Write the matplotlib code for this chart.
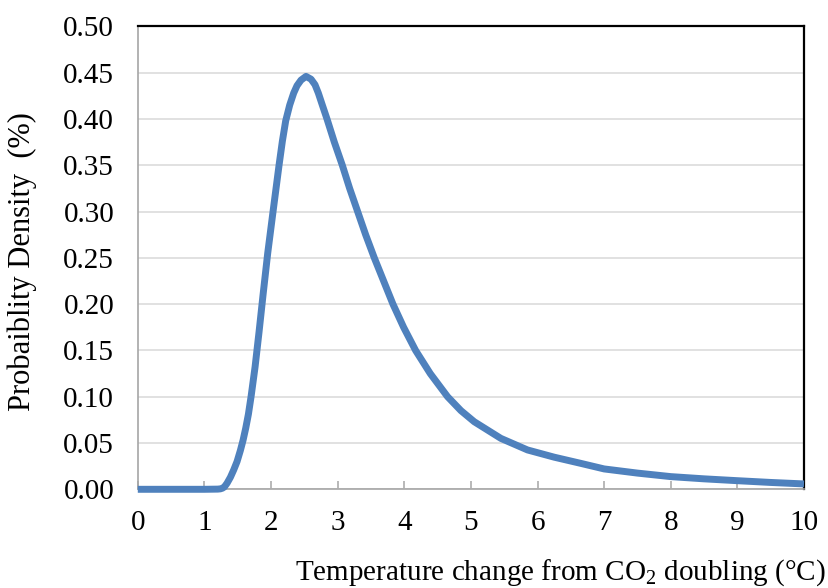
import numpy as np
import matplotlib.pyplot as plt

# values
temp_change = [0.0, 1.0, 1.20, 1.24, 1.27, 1.30, 1.34, 1.39, 1.44, 1.49, 1.54,
               1.58, 1.62, 1.66, 1.70, 1.76, 1.82, 1.88, 1.95, 2.03, 2.12,
               2.17, 2.22, 2.28, 2.34, 2.39, 2.45, 2.525, 2.60, 2.66, 2.71,
               2.77, 2.84, 2.95, 3.07, 3.18, 3.30, 3.42, 3.55, 3.69, 3.83,
               3.99, 4.17, 4.39, 4.65, 4.85, 5.05, 5.45, 5.85, 6.25, 6.65,
               7.0, 7.5, 8.0, 8.5, 9.0, 9.5, 10.0]
density = [0.0, 0.0, 0.0002, 0.0005, 0.0012, 0.0026, 0.0066, 0.013, 0.021,
           0.030, 0.042, 0.053, 0.066, 0.081, 0.100, 0.132, 0.170, 0.210,
           0.255, 0.300, 0.350, 0.376, 0.398, 0.415, 0.428, 0.436, 0.442,
           0.446, 0.443, 0.437, 0.428, 0.415, 0.400, 0.375, 0.350, 0.325,
           0.300, 0.275, 0.250, 0.225, 0.200, 0.175, 0.150, 0.125, 0.100,
           0.085, 0.073, 0.055, 0.0425, 0.0347, 0.028, 0.0220, 0.0175,
           0.0137, 0.0113, 0.0093, 0.0074, 0.0058]

x_ticks = np.arange(0, 11, 1)
y_ticks = np.arange(0, 0.51, 0.05)

plt.rcParams['font.family'] = ['Liberation Serif', 'DejaVu Serif']
plt.rcParams['mathtext.fontset'] = 'custom'
plt.rcParams['mathtext.rm'] = 'Liberation Serif'

fig = plt.figure(figsize=(8.29, 5.88), dpi=100)
ax = fig.add_axes([137.8 / 829, 1 - 489.3 / 588, (804 - 137.8) / 829, (489.3 - 26.4) / 588])

ax.plot(temp_change, density, color='#4F81BD', linewidth=5.0,
        solid_capstyle='butt', solid_joinstyle='round', clip_on=False, zorder=3)

ax.set_xlim(0, 10)
ax.set_ylim(0, 0.5)
ax.set_xticks(x_ticks)
ax.set_yticks(y_ticks)
ax.set_yticklabels([f'{v:.2f}' for v in y_ticks])

ax.grid(axis='y', color='#D9D9D9', linewidth=1.1)
ax.set_axisbelow(True)

ax.spines['left'].set_color('#A6A6A6')
ax.spines['bottom'].set_color('#A6A6A6')
ax.spines['left'].set_linewidth(1.2)
ax.spines['bottom'].set_linewidth(1.2)
ax.spines['top'].set_color('black')
ax.spines['right'].set_color('black')
ax.spines['top'].set_linewidth(1.6)
ax.spines['right'].set_linewidth(1.6)

ax.tick_params(axis='x', direction='in', length=5.5, width=1.1, color='#A6A6A6',
               labelsize=21, pad=15)
ax.tick_params(axis='y', length=0, labelsize=21, pad=17)

fig.text(826 / 829, 1 - 580 / 588, r'Temperature change from CO$_\mathregular{2}$ doubling (°C)',
         ha='right', va='baseline', fontsize=21)
fig.text(22 / 829, 1 - 262 / 588, 'Probaiblity Density  (%)', rotation=90,
         ha='center', va='center', fontsize=22)

plt.savefig('out.png', dpi=100)
